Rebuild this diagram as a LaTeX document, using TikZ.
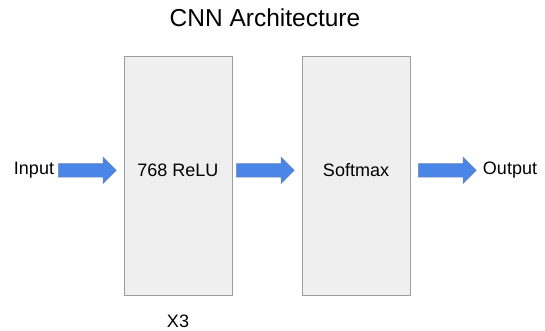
\documentclass[tikz,border=0pt]{standalone}
\usepackage{fontspec}
\setmainfont{Liberation Sans}
\usetikzlibrary{positioning,shapes.arrows}
\definecolor{boxgray}{HTML}{EFEFEF}
\definecolor{linegray}{HTML}{9E9E9E}
\definecolor{arrowblue}{HTML}{4A86E8}
\definecolor{arrowedge}{HTML}{6F86B0}
\tikzset{
  layer/.style={draw=linegray, fill=boxgray, minimum width=108pt, minimum height=239pt, inner sep=0pt, font=\fontsize{18}{20}\selectfont},
  label/.style={font=\fontsize{18}{20}\selectfont, inner sep=0pt},
  flow/.style={single arrow, anchor=west, draw=arrowedge, fill=arrowblue, minimum height=58pt, inner xsep=0pt, inner ysep=6.5pt, single arrow head extend=6.5pt, line width=0.5pt}
}
\begin{document}
\begin{tikzpicture}[x=1pt, y=-1pt]
		\useasboundingbox (0,0) rectangle (545,331);
		\node (title) at (265,18) [font=\fontsize{24.5}{28}\selectfont] {CNN Architecture};
		\node (relu) at (178,175.5) [layer] {};
		\node (soft) at (356,175.5) [layer] {};
		\node at (178,170) [label] {768 ReLU};
		\node at (356,170) [label] {Softmax};
		\node (input) at (34,170) [label] {Input};
		\node (output) at (510,170) [label] {Output};
		\node (times) at (178,321) [label] {X3};
		\node (a1) at (58,170.3) [flow] {};
		\node (a2) at (236,170.3) [flow] {};
		\node (a3) at (418,170.3) [flow] {};
		\end{tikzpicture}
\end{document}
